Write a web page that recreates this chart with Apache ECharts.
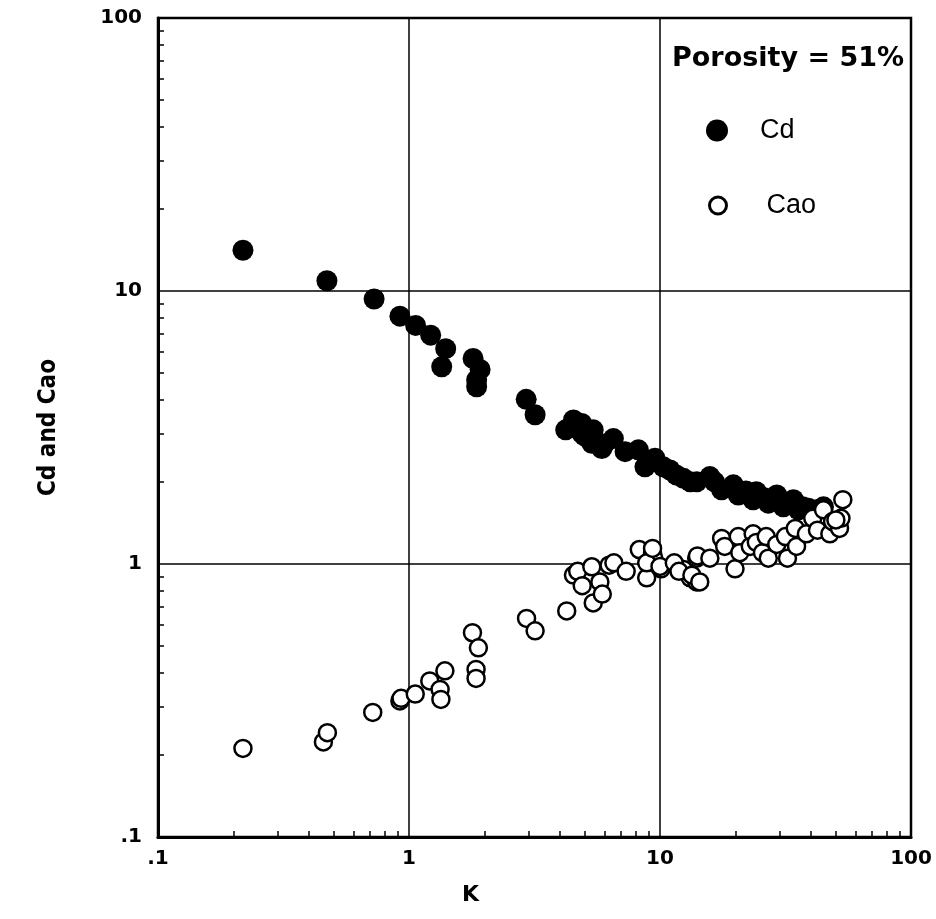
<!DOCTYPE html>
<html>
<head>
<meta charset="utf-8">
<script src="https://cdn.jsdelivr.net/npm/echarts@6/dist/echarts.min.js"></script>
<style>html,body{margin:0;padding:0;background:#fff}#c{width:936px;height:919px}</style>
</head>
<body>
<div id="c"></div>
<script>
// ---- data ----
const cdK = [0.218,0.471,0.726,0.92,1.063,1.22,1.40,1.35,1.80,1.92,1.86,1.86,2.93,3.18,4.21,4.52,4.88,4.88,5.42,5.35,5.86,6.52,7.26,8.20,8.71,9.55,10.3,10.96,11.6,12.4,13.2,14.0,15.8,17.6,19.6,20.5,23.5,24.2,27.0,29.2,31.0,34.0,35.6,39.0,44.8,5.0,6.0,16.5,22.0,26.0,32.0,37.0,42.0];
const cdV = [14.1,10.9,9.35,8.09,7.48,6.89,6.15,5.28,5.66,5.16,4.72,4.46,4.01,3.52,3.10,3.37,3.27,3.01,3.10,2.77,2.65,2.88,2.58,2.62,2.27,2.44,2.27,2.21,2.12,2.06,2.00,2.00,2.09,1.87,1.95,1.79,1.72,1.84,1.67,1.79,1.62,1.72,1.58,1.60,1.62,2.95,2.75,2.00,1.85,1.75,1.68,1.62,1.58];
const caoK = [0.218,0.456,0.473,0.717,0.92,0.93,1.059,1.21,1.33,1.34,1.39,1.79,1.89,1.85,1.85,2.94,3.18,4.25,4.52,4.70,4.90,5.35,5.42,5.76,5.89,6.27,6.55,7.33,8.27,8.85,9.34,9.45,8.85,10.1,11.6,12.4,13.2,14.0,14.0,9.34,10.0,11.4,11.9,13.4,14.4,14.1,15.8,17.6,18.1,19.9,20.5,20.8,23.5,22.9,24.2,25.6,27.0,26.5,29.2,31.6,32.2,34.6,35.0,38.3,40.6,42.4,44.8,47.5,48.7,51.9,52.6,53.5,50.2];
const caoV = [0.211,0.223,0.241,0.286,0.315,0.322,0.334,0.373,0.347,0.319,0.406,0.56,0.493,0.411,0.381,0.632,0.569,0.673,0.911,0.94,0.833,0.977,0.72,0.86,0.776,0.99,1.01,0.94,1.13,0.89,1.10,1.05,1.01,0.96,0.98,0.955,0.89,0.86,1.05,1.14,0.98,1.01,0.94,0.91,0.86,1.07,1.05,1.24,1.16,0.96,1.26,1.10,1.29,1.16,1.20,1.10,1.05,1.26,1.18,1.26,1.05,1.35,1.16,1.29,1.47,1.33,1.58,1.29,1.43,1.35,1.47,1.72,1.45];
const tickValues = [0.1, 1, 10, 100];
const tickLabels = ['.1', '1', '10', '100'];
const minorTicks = [0.2,0.3,0.4,0.5,0.6,0.7,0.8,0.9,2,3,4,5,6,7,8,9,20,30,40,50,60,70,80,90];
const seriesNames = ['Cd', 'Cao'];
const legendTitle = 'Porosity = 51%';
const xName = 'K';
const yName = 'Cd and Cao';

// ---- chart ----
const chart = echarts.init(document.getElementById('c'), null, {renderer: 'canvas'});
const fmt = v => { const i = tickValues.findIndex(t => Math.abs(t - v) / t < 1e-6); return i >= 0 ? tickLabels[i] : ''; };
const labelFont = {color: '#000', fontSize: 20, fontFamily: 'DejaVu Sans, sans-serif', fontWeight: 'bold'};
const mainAxis = (pos) => ({
  type: 'log', logBase: 10, min: 0.1, max: 100, position: pos,
  axisLine: {show: true, lineStyle: {color: '#000', width: 3}},
  axisTick: {show: false},
  splitLine: {show: true, lineStyle: {color: '#000', width: 1.5}},
  axisLabel: Object.assign({formatter: fmt}, labelFont)
});
const minorAxis = (pos) => ({
  type: 'log', logBase: 10, min: 0.1, max: 100, position: pos, offset: 0,
  axisLine: {show: false},
  axisTick: {show: true, inside: true, length: 6, customValues: minorTicks, lineStyle: {color: '#000', width: 1.5}},
  axisLabel: {show: false},
  splitLine: {show: false}
});
const xa = mainAxis('bottom');
xa.axisLabel.margin = 12;
const ya = mainAxis('left');
ya.axisLabel.margin = 16;
ya.name = yName;
ya.nameLocation = 'middle';
ya.nameGap = 97;
ya.nameTextStyle = {color: '#000', fontSize: 24, fontFamily: "'DejaVu Sans Condensed', 'DejaVu Sans', sans-serif", fontWeight: 'bold'};

const option = {
  animation: false,
  backgroundColor: '#fff',
  grid: {left: 158, top: 18, right: 25, bottom: 82, show: true, borderColor: '#000', borderWidth: 2.5, backgroundColor: 'transparent'},
  xAxis: [xa, minorAxis('bottom')],
  yAxis: [ya, minorAxis('left')],
  legend: [
    {data: [seriesNames[0]], left: 706, top: 117, padding: 0, itemWidth: 22, itemHeight: 22, selectedMode: false,
     textStyle: {color: '#000', fontSize: 27, fontFamily: 'Liberation Sans, sans-serif', padding: [0, 0, 0, 27]}},
    {data: [seriesNames[1]], left: 708, top: 192, padding: 0, itemWidth: 17, itemHeight: 17, selectedMode: false,
     itemStyle: {borderWidth: 3, borderColor: '#000', color: '#fff'},
     textStyle: {color: '#000', fontSize: 27, fontFamily: 'Liberation Sans, sans-serif', padding: [0, 0, 0, 35]}}
  ],
  graphic: [
    {type: 'text', left: 672, top: 45, style: {text: legendTitle, fill: '#000', fontSize: 27, fontFamily: 'DejaVu Sans, sans-serif', fontWeight: 'bold'}},
    {type: 'text', left: 462, top: 884, style: {text: xName, fill: '#000', fontSize: 22, fontFamily: 'DejaVu Sans, sans-serif', fontWeight: 'bold'}}
  ],
  series: [
    {name: seriesNames[0], type: 'scatter', symbol: 'circle', symbolSize: 21,
     itemStyle: {color: '#000', opacity: 1},
     data: cdK.map((k, i) => [k, cdV[i]])},
    {name: seriesNames[1], type: 'scatter', symbol: 'circle', symbolSize: 17,
     itemStyle: {color: '#fff', borderColor: '#000', borderWidth: 2.5, opacity: 1},
     data: caoK.map((k, i) => [k, caoV[i]])}
  ]
};
chart.setOption(option);
</script>
</body>
</html>
